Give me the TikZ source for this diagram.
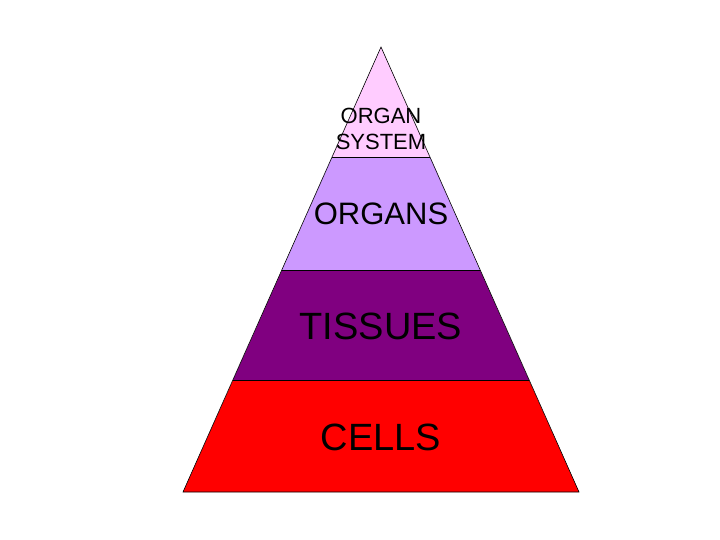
\documentclass[tikz,border=0pt]{standalone}
\usepackage{fontspec}
\setmainfont{Liberation Sans}
\begin{document}
\begin{tikzpicture}[x=1pt,y=-1pt,
  band/.style={draw=black,line width=0.6pt},
  lbl/.style={text=black,align=center,inner sep=0pt}]
\useasboundingbox (0,0) rectangle (720,540);
\definecolor{cTop}{HTML}{FFCCFF}
\definecolor{cOrg}{HTML}{CC99FF}
\definecolor{cTis}{HTML}{800080}
\definecolor{cCel}{HTML}{FF0000}
\fill[cCel] (233,380) -- (529,380) -- (579,492) -- (183,492) -- cycle;
\fill[cTis] (282,270) -- (480,270) -- (529,380) -- (233,380) -- cycle;
\fill[cOrg] (332,157) -- (430,157) -- (480,270) -- (282,270) -- cycle;
\fill[cTop] (381,47) -- (430,157) -- (332,157) -- cycle;
\draw[band] (381,47) -- (579,492) -- (183,492) -- cycle;
\draw[band] (332,157) -- (430,157);
\draw[band] (282,270) -- (480,270);
\draw[band] (233,380) -- (529,380);
\node[lbl,font=\fontsize{22}{26}\selectfont] (sys) at (381,129) {ORGAN\\SYSTEM};
\node[lbl,font=\fontsize{31}{36}\selectfont] (org) at (381,214) {ORGANS};
\node[lbl,font=\fontsize{38}{44}\selectfont] (tis) at (381,326) {TISSUES};
\node[lbl,font=\fontsize{38}{44}\selectfont] (cel) at (381,437) {CELLS};
\end{tikzpicture}
\end{document}
